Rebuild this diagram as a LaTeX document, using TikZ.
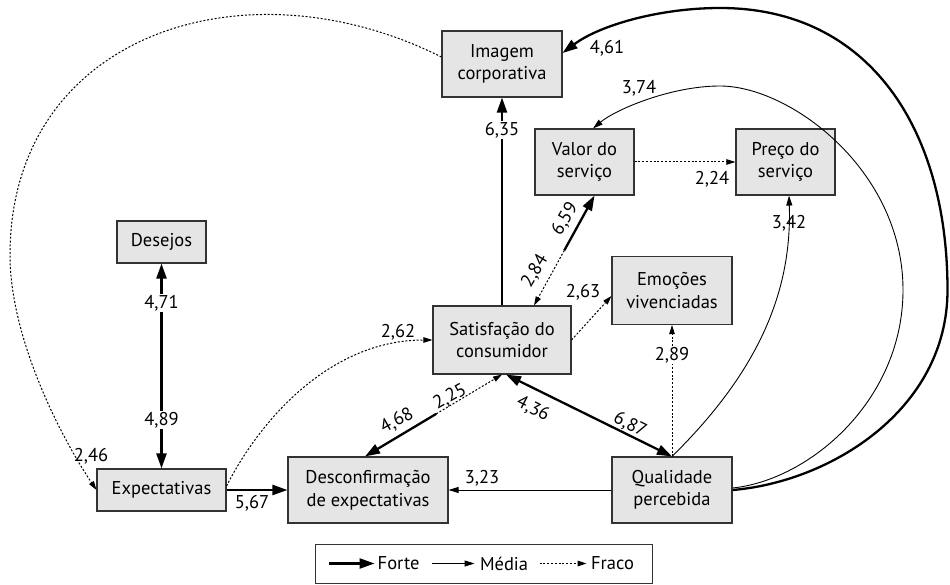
\documentclass[tikz,border=0pt]{standalone}
\usepackage{fontspec}
\setmainfont{PT Sans}
\usetikzlibrary{arrows.meta,calc}
\tikzset{
  ft/.tip={Triangle[length=15pt,width=10pt]},
  mt/.tip={Triangle[length=10pt,width=6pt]},
  wt/.tip={Triangle[length=9pt,width=5.5pt]},
  box/.style={draw=black!80,line width=1.1pt,fill=black!10,inner sep=0pt,align=center},
  lab/.style={inner sep=1pt},
  wlab/.style={fill=white,inner sep=1.5pt},
  forte/.style={line width=2.3pt,-ft},
  media/.style={line width=0.9pt,-mt},
  fraco/.style={line width=1pt,dash pattern=on 2pt off 1.8pt,-wt}
}
\begin{document}
\begin{tikzpicture}[x=1pt,y=-1pt,font=\fontsize{18.5}{22.5}\selectfont]
\useasboundingbox (0,0) rectangle (950,585);

% boxes
\node[box,minimum width=120pt,minimum height=66pt] (img) at (502,64) {Imagem\\corporativa};
\node[box,minimum width=99pt,minimum height=66pt] (valor) at (584.5,162) {Valor do\\serviço};
\node[box,minimum width=99pt,minimum height=66pt] (preco) at (785.5,162) {Preço do\\serviço};
\node[box,minimum width=89pt,minimum height=42pt] (des) at (161.5,242) {Desejos};
\node[box,minimum width=120pt,minimum height=68pt] (emo) at (672,290.5) {Emoções\\vivenciadas};
\node[box,minimum width=138pt,minimum height=68pt] (sat) at (502,340) {Satisfação do\\consumidor};
\node[box,minimum width=160pt,minimum height=66pt] (desc) at (368,490) {Desconfirmação\\de expectativas};
\node[box,minimum width=120pt,minimum height=66pt] (qual) at (672,490) {Qualidade\\percebida};
\node[box,minimum width=129pt,minimum height=42pt] (exp) at (161.5,490) {Expectativas};

% Satisfacao -> Imagem
\draw[forte] (sat.north) -- (img.south);
\node[wlab] at (502,130) {6,35};

% Desejos <-> Expectativas
\draw[forte,ft-ft] (des.south) -- (exp.north);
\node[wlab] at (161.5,303) {4,71};
\node[wlab] at (161.5,420) {4,89};

% Expectativas -> Desconfirmacao
\draw[forte] (exp.east) -- (desc.west);
\node[lab] at (252,503) {5,67};

% Qualidade -> Desconfirmacao
\draw[media] (qual.west) -- (desc.east);
\node[lab] at (482,478) {3,23};

% Valor -> Preco
\draw[fraco] (valor.east) -- (preco.west);
\node[lab] at (712,179) {2,24};

% Qualidade -> Emocoes
\draw[fraco] (qual.north) -- (emo.south);
\node[wlab] at (672,355) {2,89};

% Satisfacao -> Emocoes
\draw[fraco] (sat.east) -- ([yshift=-5.5pt]emo.west);
\node[lab] at (583,292) {2,63};

% Satisfacao <-> Valor
\coordinate (vs1) at ([xshift=32pt]sat.north);
\coordinate (vs2) at ([xshift=10pt]valor.south);
\coordinate (vsm) at ($(vs1)!0.5!(vs2)$);
\draw[forte] (vsm) -- (vs2);
\draw[fraco] (vsm) -- (vs1);
\node[lab,rotate=59] at (565,219) {6,59};
\node[lab,rotate=59] at (535,271) {2,84};

% Satisfacao <-> Desconfirmacao
\coordinate (ds1) at ([xshift=-3pt]desc.north);
\coordinate (ds2) at (sat.south);
\coordinate (dsm) at ($(ds1)!0.52!(ds2)$);
\draw[forte] (dsm) -- (ds1);
\draw[fraco] (dsm) -- (ds2);
\node[lab,rotate=29] at (397,421) {4,68};
\node[lab,rotate=29] at (450,397) {2,25};

% Satisfacao <-> Qualidade
\draw[forte,ft-ft] ([xshift=4pt]sat.south) -- (qual.north);
\node[lab,rotate=-27] at (533,409) {4,36};
\node[lab,rotate=-27] at (630,425) {6,87};

% Expectativas -> Satisfacao
\draw[fraco] ([yshift=4pt]exp.east) .. controls (260,420) and (330,340) .. (sat.west);
\node[lab] at (398,332) {2,62};

% Imagem -> Expectativas
\coordinate (lft) at (10,255);
\draw[fraco] ([yshift=7pt]img.west) .. controls (244,-42) and (10,35) .. (lft)
  .. controls (10,335) and (57,431) .. (exp.west);
\node[lab] at (91,456) {2,46};

% Qualidade -> Preco
\draw[media] (qual.north) .. controls (760,370) and (792,290) .. ([xshift=3.5pt]preco.south);
\node[lab] at (789,223) {3,42};

% Qualidade -> Imagem
\coordinate (r1) at (947.5,290);
\coordinate (t1) at (720,8);
\draw[forte] (qual.east) .. controls (830,482) and (947.5,410) .. (r1)
  .. controls (947.5,130) and (870,8) .. (t1)
  .. controls (660,8) and (600,25) .. ([yshift=11pt]img.east);
\node[lab] at (607,48) {4,61};

% Qualidade -> Valor
\coordinate (r2) at (903,290);
\coordinate (t2) at (720,86);
\draw[media] ([yshift=2pt]qual.east) .. controls (810,480) and (903,400) .. (r2)
  .. controls (903,170) and (790,86) .. (t2)
  .. controls (670,86) and (615,110) .. ([xshift=8.5pt]valor.north);
\node[lab] at (639,88) {3,74};

% legend
\node[draw=black!80,line width=0.9pt,minimum width=337pt,minimum height=39pt,inner sep=0pt] (leg) at (483.5,563.5) {};
\draw[forte] ([xshift=14pt]leg.west) -- ++(46,0) node[right,inner sep=2pt] {Forte};
\draw[media] ([xshift=117pt]leg.west) -- ++(43,0) node[right,inner sep=5pt] {Média};
\draw[fraco] ([xshift=225pt]leg.west) -- ++(47,0) node[right,inner sep=4pt] {Fraco};
\end{tikzpicture}
\end{document}
